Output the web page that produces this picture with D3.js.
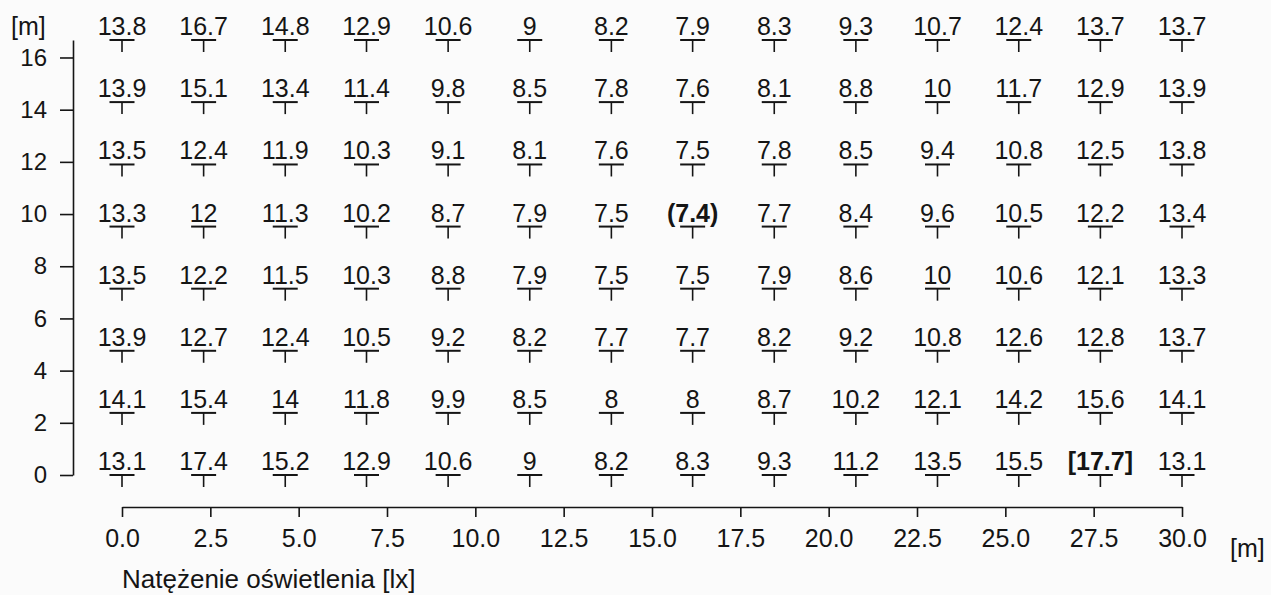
<!DOCTYPE html>
<html>
<head>
<meta charset="utf-8">
<script src="https://cdn.jsdelivr.net/npm/d3@7"></script>
<style>
  html, body { margin: 0; padding: 0; background: #fbfbfb; }
  svg { display: block; font-family: "Liberation Sans", Arial, sans-serif; }
</style>
</head>
<body>
<svg id="chart" width="1271" height="595"></svg>
<script>
// Measurement point positions along the hall [m]
const colPos = [0, 2.31, 4.62, 6.92, 9.23, 11.54, 13.85, 16.15, 18.46, 20.77, 23.08, 25.38, 27.69, 30];
const rowPos = [0, 2.38, 4.76, 7.14, 9.52, 11.9, 14.29, 16.67];

// Illuminance [lx] per row, listed from the row at 0 m upward
const row0 = [13.1, 17.4, 15.2, 12.9, 10.6, 9, 8.2, 8.3, 9.3, 11.2, 13.5, 15.5, 17.7, 13.1];
const row1 = [14.1, 15.4, 14, 11.8, 9.9, 8.5, 8, 8, 8.7, 10.2, 12.1, 14.2, 15.6, 14.1];
const row2 = [13.9, 12.7, 12.4, 10.5, 9.2, 8.2, 7.7, 7.7, 8.2, 9.2, 10.8, 12.6, 12.8, 13.7];
const row3 = [13.5, 12.2, 11.5, 10.3, 8.8, 7.9, 7.5, 7.5, 7.9, 8.6, 10, 10.6, 12.1, 13.3];
const row4 = [13.3, 12, 11.3, 10.2, 8.7, 7.9, 7.5, 7.4, 7.7, 8.4, 9.6, 10.5, 12.2, 13.4];
const row5 = [13.5, 12.4, 11.9, 10.3, 9.1, 8.1, 7.6, 7.5, 7.8, 8.5, 9.4, 10.8, 12.5, 13.8];
const row6 = [13.9, 15.1, 13.4, 11.4, 9.8, 8.5, 7.8, 7.6, 8.1, 8.8, 10, 11.7, 12.9, 13.9];
const row7 = [13.8, 16.7, 14.8, 12.9, 10.6, 9, 8.2, 7.9, 8.3, 9.3, 10.7, 12.4, 13.7, 13.7];
const rows = [row0, row1, row2, row3, row4, row5, row6, row7];

// Axis ticks
const xTicks = [0, 2.5, 5, 7.5, 10, 12.5, 15, 17.5, 20, 22.5, 25, 27.5, 30];
const yTicks = [0, 2, 4, 6, 8, 10, 12, 14, 16];

const xTitle = "Natężenie oświetlenia [lx]";
const unitLabel = "[m]";

const svg = d3.select("#chart");
const ink = "#151515";

const x = d3.scaleLinear().domain([0, 30]).range([122, 1182]);
const y = d3.scaleLinear().domain([0, 16.67]).range([475, 40]);

// Flatten the grid into points
const points = [];
rows.forEach((vals, ri) => vals.forEach((v, ci) => points.push({ x: colPos[ci], y: rowPos[ri], v })));
const vMin = d3.min(points, d => d.v);
const vMax = d3.max(points, d => d.v);

// Y axis (left)
const yAxis = svg.append("g")
  .attr("transform", "translate(73,0)")
  .call(d3.axisLeft(y).tickValues(yTicks).tickFormat(d3.format("d")).tickSize(13).tickSizeOuter(0).tickPadding(13));
yAxis.select(".domain").attr("stroke", ink).attr("stroke-width", 1.6);
yAxis.selectAll(".tick line").attr("stroke", ink).attr("stroke-width", 1.6);
yAxis.selectAll(".tick text").attr("fill", ink).attr("font-size", 24).attr("font-family", "Liberation Sans, Arial, sans-serif");

// X axis (bottom, detached from the plot)
const xAxis = svg.append("g")
  .attr("transform", "translate(0,507)")
  .call(d3.axisBottom(x).tickValues(xTicks).tickFormat(d3.format(".1f")).tickSize(10).tickSizeOuter(0).tickPadding(12));
xAxis.select(".domain").attr("stroke", ink).attr("stroke-width", 1.6);
xAxis.selectAll(".tick line").attr("stroke", ink).attr("stroke-width", 1.6);
xAxis.selectAll(".tick text").attr("fill", ink).attr("font-size", 25).attr("font-family", "Liberation Sans, Arial, sans-serif");

// Unit labels and axis title
svg.append("text").attr("x", 11).attr("y", 35).attr("font-size", 25).attr("fill", ink).text(unitLabel);
svg.append("text").attr("x", 1230).attr("y", 557).attr("font-size", 25).attr("fill", ink).text(unitLabel);
svg.append("text").attr("x", 122).attr("y", 588).attr("font-size", 26).attr("fill", ink).text(xTitle);

// Measurement markers: a T under each value
const marks = svg.append("g").selectAll("g.pt").data(points).join("g")
  .attr("class", "pt")
  .attr("transform", d => `translate(${x(d.x)},${y(d.y)})`);

marks.append("line")
  .attr("x1", -12.5).attr("x2", 12.5).attr("y1", 0).attr("y2", 0)
  .attr("stroke", ink).attr("stroke-width", 2);
marks.append("line")
  .attr("x1", 0).attr("x2", 0).attr("y1", 0).attr("y2", 12)
  .attr("stroke", ink).attr("stroke-width", 1.6);

marks.append("text")
  .attr("y", -5)
  .attr("text-anchor", "middle")
  .attr("font-size", 25)
  .attr("fill", ink)
  .attr("font-weight", d => (d.v === vMin || d.v === vMax) ? "bold" : "normal")
  .text(d => d.v === vMin ? `(${d.v})` : d.v === vMax ? `[${d.v}]` : `${d.v}`);
</script>
</body>
</html>
